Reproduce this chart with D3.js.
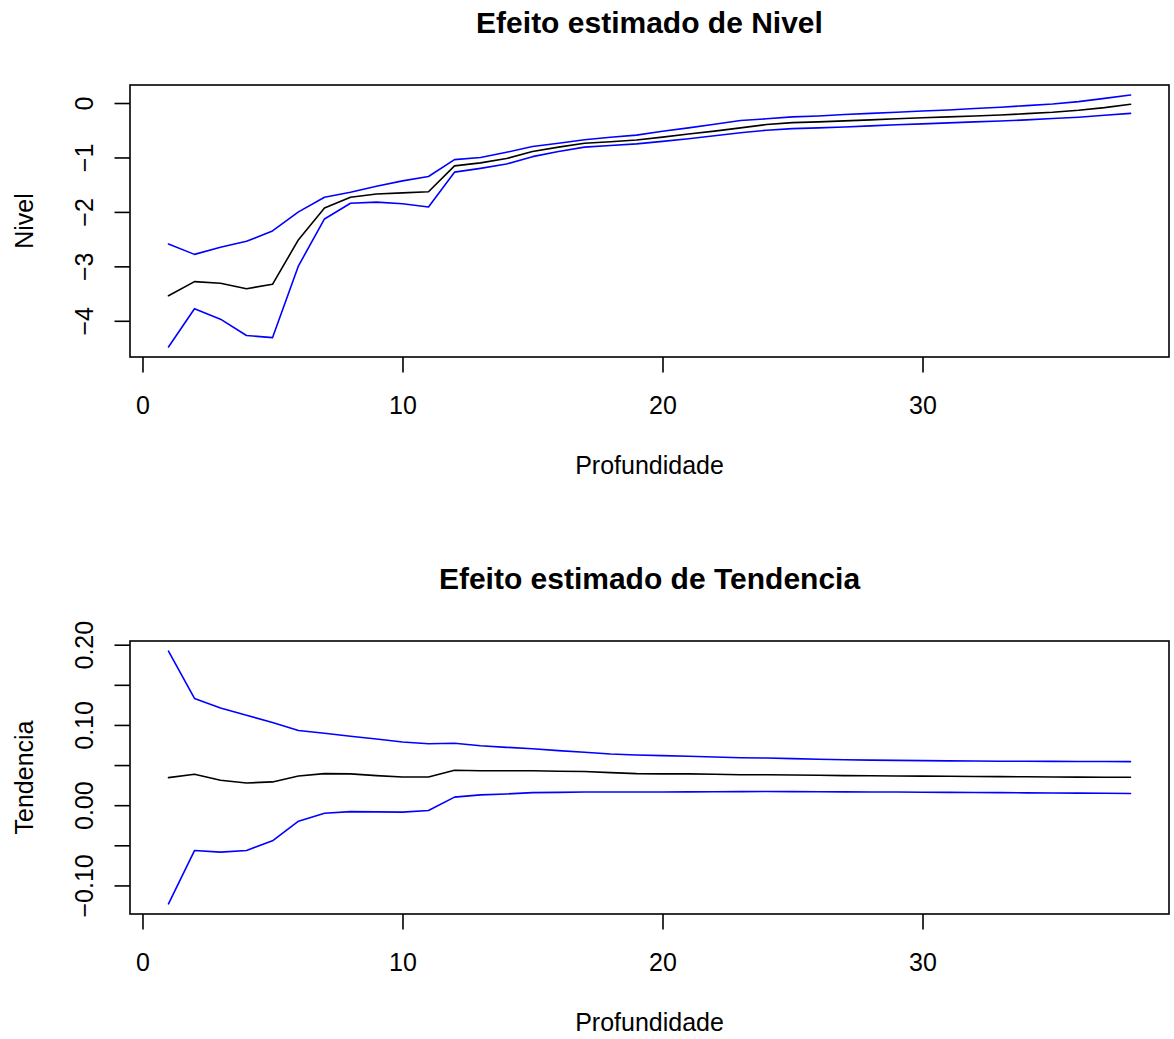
<!DOCTYPE html>
<html>
<head>
<meta charset="utf-8">
<script src="https://cdn.jsdelivr.net/npm/d3@7"></script>
<style>
  html, body { margin: 0; padding: 0; background: #ffffff; }
  svg text { font-family: "Liberation Sans", Arial, Helvetica, sans-serif; fill: #000; }
</style>
</head>
<body>
<svg id="chart" width="1174" height="1039"></svg>
<script>
// Profundidade (horizon) values on the x axis
const profundidade = [1,2,3,4,5,6,7,8,9,10,11,12,13,14,15,16,17,18,19,20,
                      21,22,23,24,25,26,27,28,29,30,31,32,33,34,35,36,37,38];

// Estimated level effect and its confidence band
const nivelEst = [-3.54,-3.28,-3.31,-3.41,-3.33,-2.51,-1.93,-1.73,-1.67,-1.65,
                  -1.63,-1.155,-1.10,-1.02,-0.89,-0.81,-0.74,-0.71,-0.68,-0.626,
                  -0.57,-0.517,-0.456,-0.395,-0.36,-0.346,-0.328,-0.31,-0.29,-0.27,
                  -0.255,-0.237,-0.22,-0.195,-0.17,-0.133,-0.085,-0.024];
const nivelSup = [-2.59,-2.78,-2.65,-2.54,-2.35,-2.00,-1.73,-1.64,-1.53,-1.43,
                  -1.35,-1.04,-1.00,-0.905,-0.80,-0.74,-0.675,-0.63,-0.59,-0.52,
                  -0.456,-0.39,-0.32,-0.29,-0.255,-0.237,-0.21,-0.19,-0.17,-0.146,
                  -0.128,-0.10,-0.078,-0.048,-0.018,0.025,0.086,0.146];
const nivelInf = [-4.48,-3.78,-3.97,-4.27,-4.31,-2.99,-2.13,-1.84,-1.82,-1.85,
                  -1.91,-1.27,-1.20,-1.12,-0.985,-0.89,-0.81,-0.78,-0.75,-0.705,
                  -0.655,-0.60,-0.545,-0.50,-0.47,-0.456,-0.44,-0.42,-0.40,-0.383,
                  -0.365,-0.346,-0.33,-0.31,-0.285,-0.26,-0.225,-0.19];

// Estimated trend effect and its confidence band
const tendEst = [0.0343,0.0385,0.031,0.0277,0.029,0.0364,0.0393,0.039,0.0368,0.0352,
                 0.0352,0.0435,0.043,0.043,0.043,0.0423,0.042,0.0406,0.0393,0.039,
                 0.039,0.0385,0.038,0.038,0.0377,0.0373,0.0368,0.0366,0.0364,0.0362,
                 0.036,0.0358,0.0356,0.0354,0.0352,0.035,0.0349,0.0348];
const tendSup = [0.192,0.133,0.121,0.112,0.103,0.093,0.0896,0.086,0.0825,0.0787,
                 0.0766,0.0771,0.0741,0.0721,0.0704,0.068,0.066,0.0638,0.0626,0.0617,
                 0.061,0.060,0.0592,0.0588,0.058,0.0572,0.0567,0.0562,0.0558,0.0555,
                 0.0552,0.055,0.0548,0.0547,0.0546,0.0545,0.0544,0.0543];
const tendInf = [-0.123,-0.0565,-0.0585,-0.0565,-0.0444,-0.020,-0.010,-0.008,-0.0083,-0.0087,
                 -0.0067,0.010,0.0128,0.014,0.0157,0.016,0.0165,0.0165,0.0165,0.0165,
                 0.0166,0.0168,0.0169,0.017,0.0169,0.0168,0.0166,0.0165,0.0164,0.0162,
                 0.016,0.0158,0.0156,0.0154,0.0152,0.015,0.0148,0.0145];

// Axis tick values
const xTicks = [0, 10, 20, 30];
const nivelTicks = [-4, -3, -2, -1, 0];
const tendTicks = [-0.10, -0.05, 0.00, 0.05, 0.10, 0.15, 0.20];
const tendLabelled = [-0.10, 0.00, 0.10, 0.20];

const svg = d3.select("#chart");
const LW = 1.6;
const TICK = 15.5;
const minus = s => s.replace("-", "\u2212");

// Extend a range by 4% on each side, as base graphics do
function padded(lo, hi) {
  const p = (hi - lo) * 0.04;
  return [lo - p, hi + p];
}

function panel(opt) {
  const { top, bottom, left, right, title, ylab, est, sup, inf, yTicks, yFormat } = opt;
  const g = svg.append("g");

  const x = d3.scaleLinear()
    .domain(padded(d3.min(profundidade), d3.max(profundidade)))
    .range([left, right]);
  const all = est.concat(sup, inf);
  const y = d3.scaleLinear()
    .domain(padded(d3.min(all), d3.max(all)))
    .range([bottom, top]);

  // series
  const line = d3.line().x((d, i) => x(profundidade[i])).y(d => y(d));
  [[est, "#000000"], [sup, "#0000ff"], [inf, "#0000ff"]].forEach(([vals, col]) => {
    g.append("path")
      .attr("d", line(vals))
      .attr("fill", "none")
      .attr("stroke", col)
      .attr("stroke-width", LW)
      .attr("stroke-linejoin", "round")
      .attr("stroke-linecap", "round");
  });

  // x axis
  const xa = g.append("g")
    .attr("transform", `translate(0,${bottom})`)
    .call(d3.axisBottom(x).tickValues(xTicks).tickSize(TICK).tickSizeOuter(0)
      .tickFormat(d3.format("d")));
  xa.select(".domain").remove();
  xa.selectAll(".tick line").attr("stroke", "#000").attr("stroke-width", LW);
  xa.selectAll(".tick text")
    .attr("y", 57).attr("dy", null)
    .style("font-size", "25px");

  // y axis with labels rotated parallel to the axis
  const ya = g.append("g")
    .attr("transform", `translate(${left},0)`)
    .call(d3.axisLeft(y).tickValues(yTicks).tickSize(TICK).tickSizeOuter(0)
      .tickFormat(yFormat));
  ya.select(".domain").remove();
  ya.selectAll(".tick line").attr("stroke", "#000").attr("stroke-width", LW);
  ya.selectAll(".tick text")
    .attr("x", null).attr("dy", null)
    .attr("text-anchor", "middle")
    .attr("transform", "translate(-37,0) rotate(-90)")
    .style("font-size", "25px");

  // frame
  g.append("rect")
    .attr("x", left).attr("y", top)
    .attr("width", right - left).attr("height", bottom - top)
    .attr("fill", "none").attr("stroke", "#000").attr("stroke-width", LW);

  // titles
  g.append("text")
    .attr("x", (left + right) / 2).attr("y", top - 52)
    .attr("text-anchor", "middle")
    .style("font-size", "30px").style("font-weight", "bold")
    .text(title);
  g.append("text")
    .attr("x", (left + right) / 2).attr("y", bottom + 117)
    .attr("text-anchor", "middle")
    .style("font-size", "25px")
    .text("Profundidade");
  g.append("text")
    .attr("transform", `translate(33,${(top + bottom) / 2}) rotate(-90)`)
    .attr("text-anchor", "middle")
    .style("font-size", "25px")
    .text(ylab);
}

panel({
  top: 85, bottom: 357, left: 130, right: 1169,
  title: "Efeito estimado de Nivel", ylab: "Nivel",
  est: nivelEst, sup: nivelSup, inf: nivelInf,
  yTicks: nivelTicks,
  yFormat: d => minus(d3.format("d")(d))
});

panel({
  top: 641, bottom: 914, left: 130, right: 1169,
  title: "Efeito estimado de Tendencia", ylab: "Tendencia",
  est: tendEst, sup: tendSup, inf: tendInf,
  yTicks: tendTicks,
  yFormat: d => tendLabelled.some(v => Math.abs(v - d) < 1e-9) ? minus(d3.format(".2f")(d)) : ""
});
</script>
</body>
</html>
